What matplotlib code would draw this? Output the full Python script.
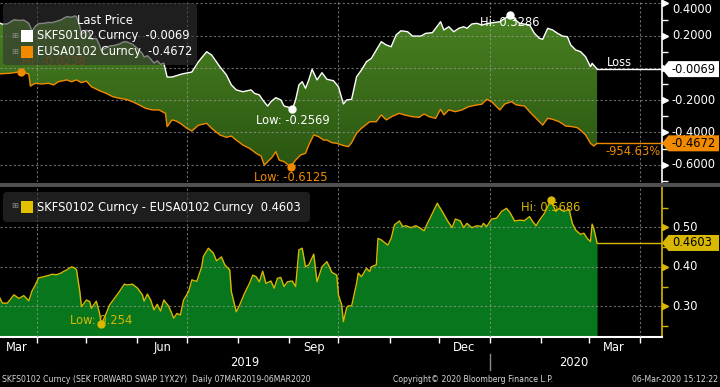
import numpy as np
import pandas as pd
import matplotlib
matplotlib.use('Agg')
import matplotlib.pyplot as plt
import matplotlib.dates as mdates
import matplotlib.transforms as mtransforms
from matplotlib.patches import Polygon, Rectangle, FancyBboxPatch
from matplotlib.colors import LinearSegmentedColormap

plt.rcParams['font.family'] = ['DejaVu Sans']

# ---------------- data ----------------
sk_dates = ['2019-03-08', '2019-03-11', '2019-03-14', '2019-03-18', '2019-03-21', '2019-03-24', '2019-03-27', '2019-03-29', '2019-03-31',
            '2019-04-02', '2019-04-05', '2019-04-08', '2019-04-10', '2019-04-13', '2019-04-16', '2019-04-17', '2019-04-19', '2019-04-22', '2019-04-24', '2019-04-25', '2019-04-27', '2019-04-28',
            '2019-05-01', '2019-05-03', '2019-05-04', '2019-05-07', '2019-05-09', '2019-05-10', '2019-05-13', '2019-05-15', '2019-05-18', '2019-05-21', '2019-05-24', '2019-05-26', '2019-05-29',
            '2019-06-01', '2019-06-04', '2019-06-05', '2019-06-07', '2019-06-09', '2019-06-11', '2019-06-13', '2019-06-15', '2019-06-17', '2019-06-19', '2019-06-22', '2019-06-28',
            '2019-07-04', '2019-07-08', '2019-07-13', '2019-07-16', '2019-07-21', '2019-07-25', '2019-07-28', '2019-07-31',
            '2019-08-04', '2019-08-09', '2019-08-11', '2019-08-14', '2019-08-16', '2019-08-19', '2019-08-21', '2019-08-24', '2019-08-27', '2019-08-29',
            '2019-09-01', '2019-09-03', '2019-09-05', '2019-09-07', '2019-09-09', '2019-09-11', '2019-09-13', '2019-09-15', '2019-09-18', '2019-09-21', '2019-09-24', '2019-09-28',
            '2019-10-01', '2019-10-04', '2019-10-06', '2019-10-09', '2019-10-12', '2019-10-15', '2019-10-18', '2019-10-21', '2019-10-24', '2019-10-27', '2019-10-30',
            '2019-11-02', '2019-11-05', '2019-11-08', '2019-11-12', '2019-11-15', '2019-11-20', '2019-11-23', '2019-11-27', '2019-11-29',
            '2019-12-02', '2019-12-04', '2019-12-07', '2019-12-10', '2019-12-13', '2019-12-16', '2019-12-18', '2019-12-21', '2019-12-24', '2019-12-27', '2019-12-31',
            '2020-01-07', '2020-01-13', '2020-01-19', '2020-01-25', '2020-01-28', '2020-01-31',
            '2020-02-02', '2020-02-05', '2020-02-08', '2020-02-11', '2020-02-14', '2020-02-17', '2020-02-19', '2020-02-22', '2020-02-25', '2020-02-28',
            '2020-03-02', '2020-03-03', '2020-03-06']
sk_vals = [0.285, 0.272, 0.274, 0.299, 0.295, 0.297, 0.277, 0.229, 0.259,
           0.275, 0.277, 0.283, 0.281, 0.290, 0.300, 0.308, 0.318, 0.315, 0.323, 0.318, 0.257, 0.208,
           0.235, 0.222, 0.179, 0.183, 0.141, 0.109, 0.125, 0.136, 0.140, 0.149, 0.164, 0.160, 0.147,
           0.121, 0.089, 0.068, 0.076, 0.056, 0.031, 0.045, 0.023, 0.030, -0.056, -0.056, -0.037,
           -0.025, 0.039, 0.101, 0.081, 0.008, -0.043, -0.105, -0.136,
           -0.147, -0.136, -0.157, -0.167, -0.198, -0.236, -0.209, -0.184, -0.198, -0.236,
           -0.244, -0.2569, -0.198, -0.105, -0.085, -0.126, -0.074, -0.008, -0.074, -0.029, -0.070, -0.079,
           -0.116, -0.223, -0.198, -0.194, -0.054, -0.012, 0.039, 0.060, 0.112, 0.163, 0.143,
           0.132, 0.205, 0.231, 0.225, 0.198, 0.198, 0.215, 0.219, 0.246,
           0.287, 0.236, 0.256, 0.225, 0.246, 0.256, 0.246, 0.273, 0.277, 0.267, 0.277,
           0.287, 0.3286, 0.277, 0.267, 0.215, 0.184,
           0.178, 0.246, 0.236, 0.215, 0.198, 0.194, 0.143, 0.112, 0.101, 0.070,
           0.008, 0.029, -0.0069]

eu_dates = ['2019-03-08', '2019-03-15', '2019-03-22', '2019-03-27', '2019-03-28', '2019-03-31',
            '2019-04-04', '2019-04-08', '2019-04-11', '2019-04-14', '2019-04-19', '2019-04-22', '2019-04-25', '2019-04-28',
            '2019-05-01', '2019-05-04', '2019-05-09', '2019-05-13', '2019-05-17', '2019-05-21', '2019-05-25', '2019-05-29',
            '2019-06-02', '2019-06-06', '2019-06-10', '2019-06-14', '2019-06-18', '2019-06-19', '2019-06-22', '2019-06-24', '2019-06-27',
            '2019-07-01', '2019-07-04', '2019-07-08', '2019-07-13', '2019-07-16', '2019-07-21', '2019-07-25', '2019-07-28', '2019-07-31',
            '2019-08-04', '2019-08-08', '2019-08-12', '2019-08-15', '2019-08-17', '2019-08-20', '2019-08-22', '2019-08-24', '2019-08-26', '2019-08-29',
            '2019-09-02', '2019-09-05', '2019-09-08', '2019-09-11', '2019-09-13', '2019-09-16', '2019-09-19', '2019-09-22', '2019-09-24', '2019-09-27', '2019-09-30',
            '2019-10-03', '2019-10-07', '2019-10-09', '2019-10-12', '2019-10-15', '2019-10-20', '2019-10-24', '2019-10-27', '2019-10-30',
            '2019-11-03', '2019-11-07', '2019-11-10', '2019-11-15', '2019-11-19', '2019-11-22', '2019-11-25', '2019-11-29',
            '2019-12-02', '2019-12-04', '2019-12-07', '2019-12-11', '2019-12-15', '2019-12-19', '2019-12-24', '2019-12-27', '2019-12-30',
            '2020-01-02', '2020-01-05', '2020-01-07', '2020-01-10', '2020-01-14', '2020-01-17', '2020-01-22', '2020-01-25', '2020-01-28',
            '2020-02-02', '2020-02-05', '2020-02-08', '2020-02-12', '2020-02-16', '2020-02-20', '2020-02-23', '2020-02-26', '2020-02-28',
            '2020-03-02', '2020-03-04', '2020-03-06']
eu_vals = [-0.037, -0.033, -0.0238, -0.037, -0.112, -0.095,
           -0.099, -0.095, -0.105, -0.085, -0.074, -0.085, -0.074, -0.091,
           -0.081, -0.116, -0.141, -0.157, -0.178, -0.188, -0.194, -0.209,
           -0.229, -0.250, -0.260, -0.260, -0.281, -0.364, -0.322, -0.327, -0.343,
           -0.374, -0.391, -0.355, -0.343, -0.374, -0.415, -0.430, -0.422, -0.447,
           -0.478, -0.498, -0.529, -0.546, -0.602, -0.571, -0.550, -0.519, -0.571, -0.581,
           -0.6125, -0.571, -0.540, -0.529, -0.478, -0.415, -0.426, -0.447, -0.447, -0.463, -0.467,
           -0.478, -0.488, -0.463, -0.405, -0.374, -0.333, -0.333, -0.291, -0.322,
           -0.298, -0.281, -0.291, -0.302, -0.306, -0.285, -0.302, -0.312,
           -0.256, -0.291, -0.260, -0.271, -0.260, -0.240, -0.229, -0.225, -0.194,
           -0.209, -0.240, -0.260, -0.223, -0.209, -0.229, -0.236, -0.271, -0.302,
           -0.354, -0.312, -0.318, -0.333, -0.360, -0.364, -0.370, -0.395, -0.415,
           -0.467, -0.484, -0.4672]

spread_dates = ['2019-03-08', '2019-03-11', '2019-03-14', '2019-03-18', '2019-03-21', '2019-03-24', '2019-03-27', '2019-03-29', '2019-03-31',
                '2019-04-02', '2019-04-05', '2019-04-08', '2019-04-10', '2019-04-13', '2019-04-16', '2019-04-17', '2019-04-19', '2019-04-22', '2019-04-24', '2019-04-25', '2019-04-27', '2019-04-28',
                '2019-05-01', '2019-05-03', '2019-05-04', '2019-05-07', '2019-05-09', '2019-05-10', '2019-05-13', '2019-05-15', '2019-05-18', '2019-05-21', '2019-05-24', '2019-05-26', '2019-05-29',
                '2019-06-01', '2019-06-04', '2019-06-05', '2019-06-07', '2019-06-09', '2019-06-11', '2019-06-13', '2019-06-15', '2019-06-17', '2019-06-20', '2019-06-23', '2019-06-25', '2019-06-27', '2019-06-29',
                '2019-07-02', '2019-07-04', '2019-07-07', '2019-07-10', '2019-07-11', '2019-07-14', '2019-07-17', '2019-07-19', '2019-07-22', '2019-07-24', '2019-07-27', '2019-07-28', '2019-07-31',
                '2019-08-02', '2019-08-05', '2019-08-08', '2019-08-10', '2019-08-12', '2019-08-14', '2019-08-16', '2019-08-18', '2019-08-21', '2019-08-23', '2019-08-25', '2019-08-27', '2019-08-29', '2019-08-31',
                '2019-09-03', '2019-09-05', '2019-09-07', '2019-09-09', '2019-09-11', '2019-09-13', '2019-09-16', '2019-09-18', '2019-09-21', '2019-09-24', '2019-09-27', '2019-09-30',
                '2019-10-01', '2019-10-03', '2019-10-04', '2019-10-06', '2019-10-07', '2019-10-09', '2019-10-12', '2019-10-13', '2019-10-15', '2019-10-18', '2019-10-20', '2019-10-21', '2019-10-24', '2019-10-25', '2019-10-27', '2019-10-31',
                '2019-11-02', '2019-11-04', '2019-11-07', '2019-11-09', '2019-11-11', '2019-11-14', '2019-11-17', '2019-11-20', '2019-11-22', '2019-11-24', '2019-11-27', '2019-11-30',
                '2019-12-03', '2019-12-06', '2019-12-09', '2019-12-11', '2019-12-14', '2019-12-16', '2019-12-18', '2019-12-21', '2019-12-24', '2019-12-27', '2019-12-28', '2019-12-30',
                '2020-01-02', '2020-01-05', '2020-01-08', '2020-01-11', '2020-01-13', '2020-01-16', '2020-01-19', '2020-01-22', '2020-01-25', '2020-01-27', '2020-01-29', '2020-01-31',
                '2020-02-03', '2020-02-05', '2020-02-07', '2020-02-10', '2020-02-12', '2020-02-15', '2020-02-18', '2020-02-20', '2020-02-22', '2020-02-25', '2020-02-27', '2020-02-29',
                '2020-03-02', '2020-03-03', '2020-03-04', '2020-03-06']
spread_vals = [0.333, 0.308, 0.308, 0.329, 0.320, 0.327, 0.314, 0.339, 0.354,
               0.372, 0.375, 0.378, 0.381, 0.380, 0.385, 0.388, 0.392, 0.400, 0.397, 0.392, 0.337, 0.299,
               0.316, 0.312, 0.295, 0.313, 0.282, 0.254, 0.282, 0.303, 0.320, 0.337, 0.356, 0.354, 0.356,
               0.346, 0.329, 0.313, 0.331, 0.316, 0.291, 0.305, 0.288, 0.316, 0.300, 0.270, 0.282, 0.278, 0.316,
               0.337, 0.367, 0.363, 0.400, 0.426, 0.447, 0.435, 0.415, 0.425, 0.405, 0.392, 0.337, 0.286,
               0.303, 0.333, 0.358, 0.379, 0.375, 0.362, 0.389, 0.358, 0.364, 0.346, 0.371, 0.373, 0.350, 0.362,
               0.364, 0.350, 0.443, 0.447, 0.400, 0.405, 0.432, 0.362, 0.400, 0.413, 0.386, 0.379,
               0.329, 0.303, 0.261, 0.297, 0.301, 0.301, 0.358, 0.384, 0.375, 0.396, 0.388, 0.400, 0.405, 0.472, 0.468, 0.455,
               0.472, 0.506, 0.516, 0.502, 0.504, 0.499, 0.504, 0.497, 0.491, 0.510, 0.535, 0.561,
               0.540, 0.518, 0.499, 0.521, 0.516, 0.499, 0.510, 0.499, 0.504, 0.502, 0.510, 0.502,
               0.521, 0.523, 0.540, 0.548, 0.538, 0.516, 0.518, 0.517, 0.527, 0.514, 0.504, 0.518,
               0.535, 0.552, 0.5686, 0.540, 0.548, 0.540, 0.546, 0.510, 0.493, 0.482, 0.485, 0.472,
               0.464, 0.508, 0.497, 0.4603]

top_ticks = [-0.6, -0.4, -0.2, 0.0, 0.2, 0.4]
top_labels = ['-0.6000', '-0.4000', '-0.2000', '', '0.2000', '0.4000']  # 0 hidden by the tag
top_minor = [-0.7, -0.5, -0.3, -0.1, 0.1, 0.3]
bot_ticks = [0.3, 0.4, 0.5]
bot_labels = ['0.30', '0.40', '0.50']
bot_minor = [0.25, 0.35, 0.45, 0.55]
month_labels = ['Mar', 'Jun', 'Sep', 'Dec', 'Mar']
month_label_dates = ['2019-03-20', '2019-06-16', '2019-09-16', '2019-12-16', '2020-03-16']
year_labels = ['2019', '2020']
year_label_dates = ['2019-08-05', '2020-02-21']

WHITE = '#ffffff'
ORANGE = '#f28a00'
YELLOW = '#d8b800'
GRID = '#9a9a9a'

sk_x = mdates.date2num(pd.to_datetime(sk_dates))
eu_x = mdates.date2num(pd.to_datetime(eu_dates))
sp_x = mdates.date2num(pd.to_datetime(spread_dates))
sk_y = np.array(sk_vals)
eu_y = np.array(eu_vals)
sp_y = np.array(spread_vals)

# ---------------- figure / axes ----------------
W, H = 720, 387
fig = plt.figure(figsize=(W / 100, H / 100), dpi=100, facecolor='black')
px = mtransforms.Affine2D().scale(1 / W, -1 / H).translate(0, 1) + fig.transFigure

ax1 = fig.add_axes([0, 1 - 182 / H, 662 / W, 182 / H])
ax2 = fig.add_axes([0, 1 - 337 / H, 662 / W, 150 / H])

xmin = mdates.date2num(pd.Timestamp('2019-03-09 13:00'))
xmax = mdates.date2num(pd.Timestamp('2020-04-14 10:00'))

for ax in (ax1, ax2):
    ax.set_facecolor('black')
    ax.set_xlim(xmin, xmax)
    ax.xaxis_date()
    ax.xaxis.set_major_locator(mdates.MonthLocator(bymonth=[1, 4, 7, 10]))
    ax.xaxis.set_minor_locator(mdates.MonthLocator())
    ax.set_axisbelow(False)
    ax.grid(True, which='major', color=GRID, ls=(0, (2, 2)), lw=0.8, alpha=0.7)
    for s in ('top', 'left', 'bottom'):
        ax.spines[s].set_visible(False)
    ax.yaxis.tick_right()

ax1.set_ylim(-0.707, 0.4217)
ax2.set_ylim(0.2223, 0.602)

# ---------------- top panel ----------------
poly = Polygon(np.column_stack([np.r_[sk_x, eu_x[::-1]], np.r_[sk_y, eu_y[::-1]]]),
               closed=True, fc='none', ec='none')
ax1.add_patch(poly)
grad = np.linspace(0, 1, 256).reshape(-1, 1)
cmap = LinearSegmentedColormap.from_list('g', ['#285410', '#4a8222'])
img = ax1.imshow(grad, extent=[xmin, xmax, -0.65, 0.35], origin='lower',
                 aspect='auto', cmap=cmap, zorder=1)
img.set_clip_path(poly)
ax1.set_xlim(xmin, xmax)
ax1.set_ylim(-0.707, 0.4217)

ax1.plot(sk_x, sk_y, color=WHITE, lw=1, zorder=3)
ax1.plot(eu_x, eu_y, color=ORANGE, lw=1, zorder=3)
ax1.plot([sk_x[-1], xmax], [sk_y[-1]] * 2, color=WHITE, lw=1, zorder=3)
ax1.plot([eu_x[-1], xmax], [eu_y[-1]] * 2, color=ORANGE, lw=1, zorder=3)

ax1.spines['right'].set_color(WHITE)
ax1.spines['right'].set_linewidth(1.2)
ax1.set_yticks(top_ticks)
ax1.set_yticks(top_minor, minor=True)
ax1.tick_params(axis='x', which='both', length=0, labelbottom=False)
ax1.tick_params(axis='y', which='major', length=0, labelright=False)
ax1.tick_params(axis='y', which='minor', length=4, width=1, color=WHITE, direction='out')

# ---------------- bottom panel ----------------
ax2.fill_between(sp_x, sp_y, 0, color='#08761c', lw=0, zorder=1)
ax2.plot(sp_x, sp_y, color=YELLOW, lw=1, zorder=3)
ax2.plot([sp_x[-1], xmax], [sp_y[-1]] * 2, color=YELLOW, lw=1, zorder=3)

ax2.spines['right'].set_color(YELLOW)
ax2.spines['right'].set_linewidth(1.2)
ax2.spines['bottom'].set_visible(True)
ax2.spines['bottom'].set_color(WHITE)
ax2.spines['bottom'].set_linewidth(1.5)
ax2.set_yticks(bot_ticks)
ax2.set_yticks(bot_minor, minor=True)
ax2.tick_params(axis='x', which='both', length=4, width=1, color=WHITE, direction='out', labelbottom=False)
ax2.tick_params(axis='y', which='major', length=0, labelright=False)
ax2.tick_params(axis='y', which='minor', length=4, width=1, color=YELLOW, direction='out')

# right axis labels, triangle markers and last-value tags
tri_off = mtransforms.ScaledTranslation(3 / 100, 0, fig.dpi_scale_trans)
lab_x = 1 + 10 / 662


def right_axis(ax, ticks, labels, color):
    tr = ax.get_yaxis_transform()
    ax.plot(np.ones(len(ticks)), ticks, ls='none', marker='>', ms=4, color=color,
            transform=tr + tri_off, clip_on=False, zorder=6)
    for v, lab in zip(ticks, labels):
        if not lab:
            continue
        ax.text(lab_x, v, lab, transform=tr, ha='left',
                va='top' if v == max(ticks) and ax is ax1 else 'center',
                color=WHITE, fontsize=8.3, zorder=5, clip_on=False)


def value_tag(ax, val, text, fc):
    trans = fig.dpi_scale_trans + mtransforms.ScaledTranslation(1, val, ax.get_yaxis_transform())
    verts = [(0, 0), (0.065, 0.08), (0.57, 0.08), (0.57, -0.08), (0.065, -0.08)]
    ax.add_artist(Polygon(verts, closed=True, transform=trans, fc=fc, ec='none',
                          clip_on=False, zorder=8))
    ax.text(lab_x, val, text, transform=ax.get_yaxis_transform(), ha='left', va='center',
            color='black', fontsize=8.3, zorder=9, clip_on=False)


right_axis(ax1, top_ticks, top_labels, WHITE)
right_axis(ax2, bot_ticks, bot_labels, YELLOW)
value_tag(ax1, sk_y[-1], f'{sk_y[-1]:.4f}', WHITE)
value_tag(ax1, eu_y[-1], f'{eu_y[-1]:.4f}', ORANGE)
value_tag(ax2, sp_y[-1], f'{sp_y[-1]:.4f}', YELLOW)


def fmt(v):
    return f'{v:.4f}'.rstrip('0')


def mark(ax, xs, ys, idx, label, color, off, ha='center', tcolor=None):
    ax.plot(xs[idx], ys[idx], 'o', ms=5, color=color, zorder=6, clip_on=False)
    ax.annotate(f'{label}: {fmt(ys[idx])}', (xs[idx], ys[idx]), xytext=off,
                textcoords='offset pixels', ha=ha, va='center', fontsize=8.3,
                color=tcolor or color, zorder=7)


mark(ax1, sk_x, sk_y, sk_y.argmax(), 'Hi', WHITE, (0, -7))
mark(ax1, sk_x, sk_y, sk_y.argmin(), 'Low', WHITE, (0, -11))
mark(ax1, eu_x, eu_y, eu_y.argmax(), 'Hi', ORANGE, (1, 10), ha='left', tcolor='#b86a10')
mark(ax1, eu_x, eu_y, eu_y.argmin(), 'Low', ORANGE, (0, -11))
mark(ax2, sp_x, sp_y, sp_y.argmax(), 'Hi', YELLOW, (0, -7))
mark(ax2, sp_x, sp_y, sp_y.argmin(), 'Low', YELLOW, (0, 4))

ax1.annotate('Loss', (sk_x[-1], sk_y[-1]), xytext=(22, 7), textcoords='offset pixels',
             ha='center', va='center', color=WHITE, fontsize=8.3)
ax1.annotate('-954.63%', (eu_x[-1], eu_y[-1]), xytext=(36, -8), textcoords='offset pixels',
             ha='center', va='center', color=ORANGE, fontsize=8.3)

# month / year labels
xt = ax2.get_xaxis_transform()
for d, lab in zip(month_label_dates, month_labels):
    ax2.text(mdates.date2num(pd.Timestamp(d)), -0.067, lab, transform=xt, ha='center',
             va='center', color=WHITE, fontsize=8.3, clip_on=False)
for d, lab in zip(year_label_dates, year_labels):
    ax2.text(mdates.date2num(pd.Timestamp(d)), -0.167, lab, transform=xt, ha='center',
             va='center', color=WHITE, fontsize=8.3, clip_on=False)
jan = mdates.date2num(pd.Timestamp('2020-01-01'))
ax2.plot([jan, jan], [-0.113, -0.22], transform=xt, color='#8a8a8a', lw=1, clip_on=False)

# ---------------- legends, separator, footer ----------------
fig.add_artist(Rectangle((0, 183), W, 4, transform=px, fc='#505050', ec='none', zorder=2))

fig.add_artist(FancyBboxPatch((3, 3), 194, 62, boxstyle='round,pad=0,rounding_size=4',
                              transform=px, fc='#333333', ec='none', alpha=0.6, zorder=2))
fig.text(105, 20, 'Last Price', transform=px, ha='center', va='center', color=WHITE, fontsize=8.3, zorder=3)
for yy, col, lab in [(36, WHITE, f'SKFS0102 Curncy  {sk_y[-1]:.4f}'),
                     (52, ORANGE, f'EUSA0102 Curncy  {eu_y[-1]:.4f}')]:
    fig.text(14.5, yy - 1, '\u229e', transform=px, ha='center', va='center', color='#8c8c8c', fontsize=6, zorder=3)
    fig.add_artist(Rectangle((21, yy - 6), 12, 12, transform=px, fc=col, ec='none', zorder=3))
    fig.text(37, yy, lab, transform=px, ha='left', va='center', color=WHITE, fontsize=8.3, zorder=3)

fig.add_artist(FancyBboxPatch((3, 192), 307, 30, boxstyle='round,pad=0,rounding_size=4',
                              transform=px, fc='#333333', ec='none', alpha=0.6, zorder=2))
fig.text(14.5, 206, '\u229e', transform=px, ha='center', va='center', color='#8c8c8c', fontsize=6, zorder=3)
fig.add_artist(Rectangle((21, 201), 12, 12, transform=px, fc='#e3c000', ec='none', zorder=3))
fig.text(37, 207, f'SKFS0102 Curncy - EUSA0102 Curncy  {sp_y[-1]:.4f}', transform=px,
         ha='left', va='center', color=WHITE, fontsize=8.3, zorder=3)

foot = dict(transform=px, va='center', color='#d8d8d8', fontsize=5.6)
fig.text(2, 379, 'SKFS0102 Curncy (SEK FORWARD SWAP 1YX2Y)  Daily 07MAR2019-06MAR2020', ha='left', **foot)
fig.text(393, 379, 'Copyright\u00a9 2020 Bloomberg Finance L.P.', ha='left', **foot)
fig.text(718, 379, '06-Mar-2020 15:12:22', ha='right', **foot)

fig.savefig('out.png', dpi=100, facecolor='black')
